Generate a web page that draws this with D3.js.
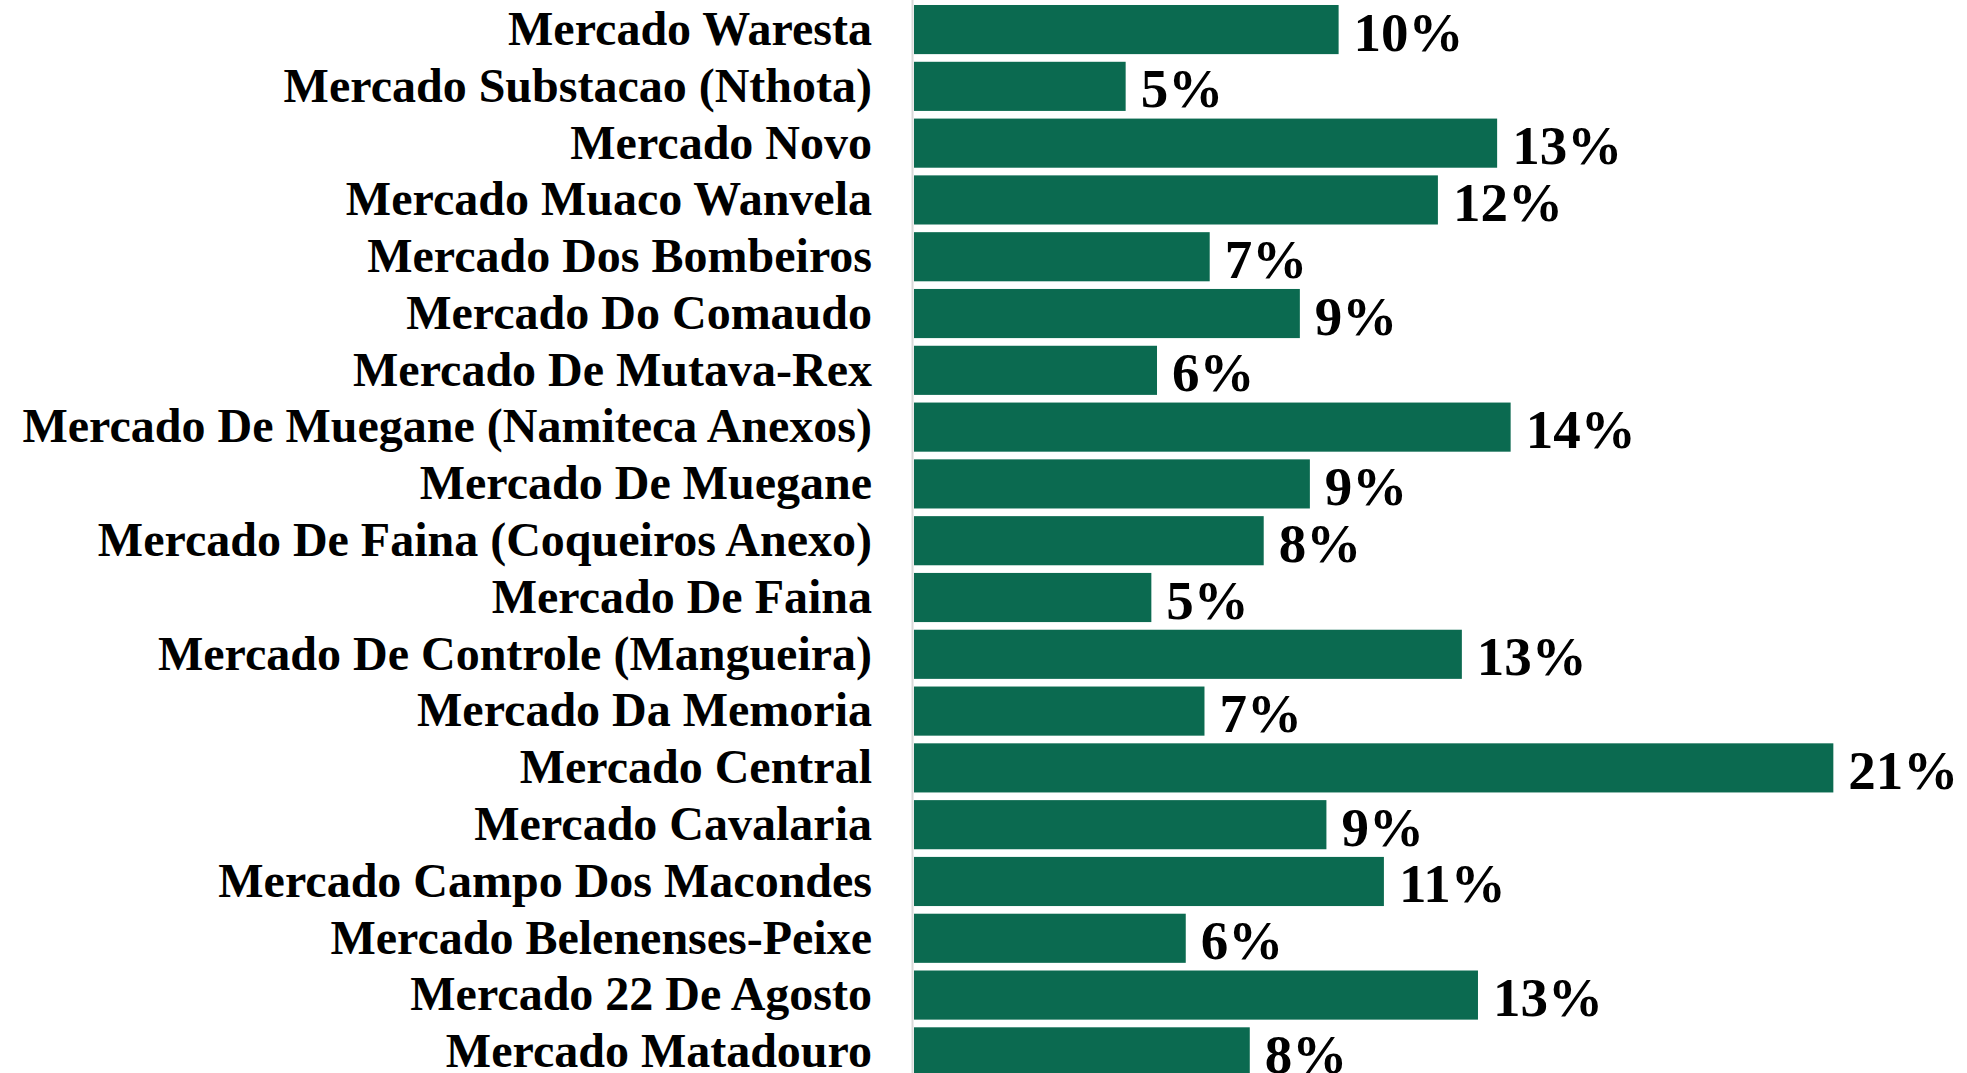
<!DOCTYPE html>
<html>
<head>
<meta charset="utf-8">
<script src="https://cdn.jsdelivr.net/npm/d3@7"></script>
<style>
  html, body { margin: 0; padding: 0; background: #fff; overflow: hidden; }
  svg { display: block; }
</style>
</head>
<body>
<div id="chart"></div>
<script>
// markets, top to bottom as they appear
var markets = [
  "Mercado Waresta",
  "Mercado Substacao (Nthota)",
  "Mercado Novo",
  "Mercado Muaco Wanvela",
  "Mercado Dos Bombeiros",
  "Mercado Do Comaudo",
  "Mercado De Mutava-Rex",
  "Mercado De Muegane (Namiteca Anexos)",
  "Mercado De Muegane",
  "Mercado De Faina (Coqueiros Anexo)",
  "Mercado De Faina",
  "Mercado De Controle (Mangueira)",
  "Mercado Da Memoria",
  "Mercado Central",
  "Mercado Cavalaria",
  "Mercado Campo Dos Macondes",
  "Mercado Belenenses-Peixe",
  "Mercado 22 De Agosto",
  "Mercado Matadouro"
];

// share in percent (labels are rounded)
var shares = [9.75, 4.86, 13.39, 12.03, 6.79, 8.86, 5.58, 13.70, 9.09, 8.03,
              5.45, 12.58, 6.67, 21.11, 9.47, 10.79, 6.24, 12.95, 7.71];

var width = 1967, height = 1073;
var barColor = "#0b6a50";
var serif = "'Liberation Serif', 'Times New Roman', serif";

var data = markets.map(function(m, i) { return { name: m, value: shares[i] }; });

var svg = d3.select("#chart").append("svg")
    .attr("width", width)
    .attr("height", height);

var x = d3.scaleLinear()
    .domain([0, 22])
    .range([914, 914 + 22 * 43.55]);

var step = 56.78;
var y = d3.scaleBand()
    .domain(markets)
    .range([1.3, 1.3 + step * 19])
    .paddingInner(0.135)
    .paddingOuter(0.065);

// bars
svg.selectAll("rect.bar")
    .data(data)
    .enter().append("rect")
    .attr("class", "bar")
    .attr("x", x(0))
    .attr("y", function(d) { return y(d.name); })
    .attr("width", function(d) { return x(d.value) - x(0); })
    .attr("height", y.bandwidth())
    .attr("fill", barColor);

// vertical axis line
svg.append("line")
    .attr("x1", x(0) - 1.5).attr("x2", x(0) - 1.5)
    .attr("y1", 0).attr("y2", height)
    .attr("stroke", "#d9d9d9")
    .attr("stroke-width", 2);

// category labels
var yAxis = svg.append("g")
    .attr("transform", "translate(" + (x(0) - 2) + ",0)")
    .call(d3.axisLeft(y).tickSize(0).tickPadding(40));
yAxis.select(".domain").remove();
yAxis.selectAll("text")
    .attr("fill", "#000")
    .style("font-family", serif)
    .style("font-weight", "bold")
    .style("font-size", "48px");

// value labels
svg.selectAll("text.val")
    .data(data)
    .enter().append("text")
    .attr("class", "val")
    .attr("x", function(d) { return x(d.value) + 15; })
    .attr("y", function(d) { return y(d.name) + y.bandwidth() / 2 + 21; })
    .style("font-family", serif)
    .style("font-weight", "bold")
    .style("font-size", "55px")
    .attr("fill", "#000")
    .text(function(d) { return Math.round(d.value) + "%"; });
</script>
</body>
</html>
